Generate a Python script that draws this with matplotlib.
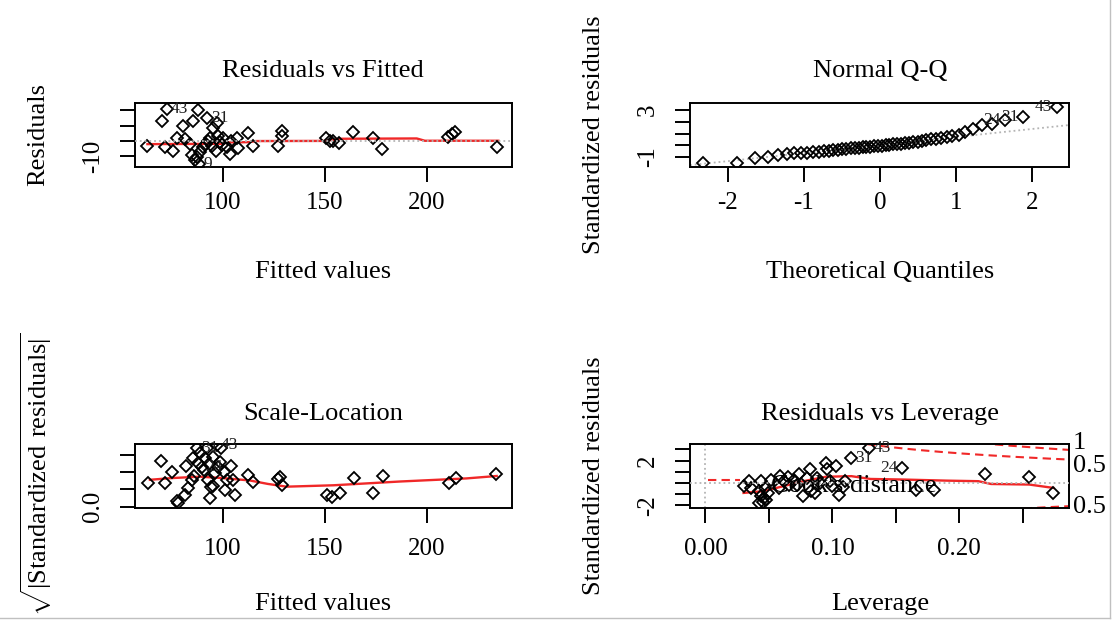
import numpy as np
import matplotlib
matplotlib.use("Agg")
import matplotlib.pyplot as plt
from matplotlib.lines import Line2D
from statistics import NormalDist

plt.rcParams['font.family'] = ['Liberation Serif', 'DejaVu Serif']
plt.rcParams['mathtext.fontset'] = 'custom'
plt.rcParams['mathtext.rm'] = 'Liberation Serif'
plt.rcParams['font.size'] = 18

W, H = 1115, 621

# --- Residuals vs Fitted ---
rf_fitted = [62.9, 69.9, 71.6, 75.3, 77.3, 80.5, 81.4, 83.8, 84.6, 85.4,
             86.3, 87.9, 88.7, 90.3, 92.8, 93.6, 94.4, 95.3, 96.6, 97.2,
             97.7, 98.5, 100.2, 101.8, 103.4, 104.2, 106.7, 107.5, 112.4, 114.9,
             127.1, 128.8, 128.8, 150.5, 152.5, 154.1, 157.0, 163.9, 173.7, 177.8,
             210.5, 212.1, 213.7, 234.5, 72.5, 92.2, 88.2, 87.3, 91.5, 99.5]
rf_resid = [-3.0, 12.9, -3.6, -6.2, 2.3, 9.7, 1.2, -1.9, -9.4, 13.3,
            -12.6, 20.3, -7.3, -4.1, 0.2, 2.3, -3.0, 8.7, -6.2, 11.9,
            3.4, -0.9, 1.9, -4.1, -8.3, 0.2, 2.3, -4.5, 5.5, -3.0,
            -3.0, 6.5, 3.4, 2.3, 0.2, 0.2, -1.5, 6.1, 2.3, -5.1,
            2.7, 4.4, 6.1, -4.1, 21.0, 15.0, -15.0, -10.6, -2.0, -2.5]
rf_id_index = [44, 45, 46]
rf_id_text = ["43", "31", "9"]
rf_smooth_x = [63, 80, 100, 102, 113, 116, 150, 158, 195, 199, 235]
rf_smooth_y = [-2.0, -1.9, -1.8, -0.9, -0.7, 0.0, 0.1, 1.5, 1.7, 0.2, 0.2]

# --- Normal Q-Q (sorted standardized residuals) ---
qq_std = [-1.54, -1.48, -1.11, -0.97, -0.85, -0.75, -0.70, -0.68, -0.65, -0.60,
          -0.55, -0.50, -0.45, -0.42, -0.38, -0.35, -0.30, -0.27, -0.24, -0.21,
          -0.18, -0.15, -0.12, -0.09, -0.06, -0.03, 0.00, 0.03, 0.07, 0.10,
          0.14, 0.18, 0.22, 0.27, 0.32, 0.37, 0.42, 0.50, 0.56, 0.62,
          0.68, 0.75, 0.85, 1.15, 1.35, 1.75, 1.80, 2.15, 2.45, 3.28]
qq_id_index = [49, 48, 47]
qq_id_text = ["43", "31", "24"]

# --- Scale-Location ---
sl_fitted = [63.4, 69.6, 71.6, 74.8, 77.3, 78.1, 81.4, 81.9, 84.6, 85.5,
             87.1, 87.9, 88.7, 89.5, 91.2, 92.0, 92.8, 93.6, 94.0, 95.3,
             96.1, 96.9, 97.7, 98.5, 99.3, 101.0, 101.8, 104.2, 105.1, 105.9,
             112.4, 114.5, 127.1, 128.0, 128.8, 150.8, 153.3, 157.3, 164.2, 173.7,
             178.3, 211.0, 214.2, 234.1, 90.5, 86.0, 95.0, 100.5, 93.0, 83.0]
sl_value = [0.70, 1.34, 0.68, 1.00, 0.15, 0.10, 0.34, 1.18, 0.76, 1.41,
            1.70, 1.26, 1.55, 1.16, 1.41, 1.70, 0.78, 0.24, 0.58, 1.45,
            0.97, 1.79, 1.16, 1.31, 1.70, 0.49, 0.78, 1.18, 0.78, 0.34,
            0.92, 0.73, 0.80, 0.87, 0.63, 0.34, 0.29, 0.41, 0.83, 0.41,
            0.89, 0.68, 0.83, 0.95, 1.05, 0.90, 0.60, 1.02, 1.25, 0.55]
sl_id_index = [21, 10, 13]
sl_id_text = ["43", "31", "24"]
sl_smooth_x = [64.2, 75, 88.7, 100, 113.2, 122, 131.2, 154.1, 186.8, 219.4, 234.2]
sl_smooth_y = [0.78, 0.83, 0.87, 0.83, 0.76, 0.66, 0.58, 0.62, 0.73, 0.82, 0.89]

# --- Residuals vs Leverage ---
lev = [0.0304, 0.0344, 0.0436, 0.0423, 0.0436, 0.0450, 0.0460, 0.0420, 0.0470, 0.0490,
       0.0580, 0.0590, 0.0620, 0.0660, 0.0700, 0.0740, 0.0770, 0.0800, 0.0820, 0.0830,
       0.0860, 0.0950, 0.0960, 0.0980, 0.1000, 0.1030, 0.1050, 0.1150, 0.1290, 0.1550,
       0.1660, 0.1800, 0.2200, 0.2550, 0.2740, 0.0360, 0.0480, 0.0520, 0.0650, 0.0900,
       0.1100, 0.0720, 0.0880, 0.1080]
lev_std = [-0.31, 0.15, 0.15, -0.76, -1.21, -1.67, -1.37, -1.82, -0.46, -0.91,
           -0.46, 0.60, 0.15, -0.15, 0.30, 0.75, -1.21, 0.45, 1.21, -0.76,
           -0.91, 1.82, 1.21, 0.15, -0.31, 1.52, -1.06, 2.27, 3.10, 1.36,
           -0.60, -0.60, 0.75, 0.52, -0.91, -0.50, -1.50, 0.30, 0.50, 0.00,
           0.20, -0.20, 0.40, -0.40]
lev_id_index = [28, 27, 29]
lev_id_text = ["43", "31", "24"]
lev_smooth_x = [0.030, 0.045, 0.056, 0.075, 0.095, 0.115, 0.130, 0.155, 0.190, 0.215, 0.225, 0.255, 0.274]
lev_smooth_y = [-0.9, -0.75, -0.45, 0.1, 0.55, 0.6, 0.35, 0.3, 0.2, 0.15, -0.1, -0.15, -0.45]
cook_levels = [0.5, 1.0]
cook_p = 3.5
cook_labels = ["1", "0.5", "0.5"]
cook_label_y = [3.6, 1.5, -2.15]

RED = '#f02828'
GRAY = '#b4b4b4'
FS = 19

fig = plt.figure(figsize=(W / 100, H / 100), dpi=100)


def box(l, t, r, b, xpad):
    ax = fig.add_axes([l / W, 1 - b / H, (r - l) / W, (b - t) / H])
    for s in ax.spines.values():
        s.set_linewidth(1.4)
    ax.tick_params(length=10.5, width=1.4, labelsize=18)
    ax.tick_params(axis='x', pad=xpad)
    ax.tick_params(axis='y', pad=12, labelrotation=90)
    return ax


def ftext(x, y, s, rot=0):
    fig.text(x / W, 1 - y / H, s, ha='center', va='center', rotation=rot, fontsize=FS)


def pts(ax, x, y):
    ax.plot(x, y, 'D', ms=5.8, mfc='none', mec='black', mew=1.3, zorder=3)


def ids(ax, x, y, idx, txt, side):
    for i, t in zip(idx, txt):
        ha = 'left' if side[i] else 'right'
        off = 3 if side[i] else -3
        ax.annotate(t, (x[i], y[i]), xytext=(off, 0), textcoords='offset points',
                    ha=ha, va='center', fontsize=12.5, color='#202020',
                    annotation_clip=False, zorder=4)


def side_of(x):
    x = np.asarray(x)
    mid = (x.min() + x.max()) / 2
    return x <= mid


# Panel 1
ax1 = box(135, 103, 512, 167, 7.5)
ax1.plot(rf_smooth_x, rf_smooth_y, color=RED, lw=1.7, zorder=2)
pts(ax1, rf_fitted, rf_resid)
ax1.axhline(0, color=GRAY, lw=1.3, ls=':', zorder=4)
ids(ax1, rf_fitted, rf_resid, rf_id_index, rf_id_text, side_of(rf_fitted))
ax1.set_xlim(56.9, 241.7)
ax1.set_ylim(-16.9, 24.8)
ax1.set_xticks([100, 150, 200])
ax1.set_yticks([-10, 0, 10, 20])
ax1.set_yticklabels(["-10", "", "", ""], va='center')
ftext(323, 71, "Residuals vs Fitted")
ftext(323, 272, "Fitted values")
ftext(38, 135, "Residuals", 90)

# Panel 2
n = len(qq_std)
qq_theo = [NormalDist().inv_cdf((i + 0.5) / n) for i in range(n)]
ax2 = box(690, 103, 1069, 167, 7.5)
q_y = np.quantile(qq_std, [0.25, 0.75])
q_x = np.array([NormalDist().inv_cdf(0.25), NormalDist().inv_cdf(0.75)])
slope = (q_y[1] - q_y[0]) / (q_x[1] - q_x[0])
icpt = q_y[0] - slope * q_x[0]
ax2.axline((0, icpt), slope=slope, color=GRAY, lw=1.3, ls=':', zorder=2)
pts(ax2, qq_theo, qq_std)
ids(ax2, qq_theo, qq_std, qq_id_index, qq_id_text, side_of(qq_theo))
ax2.set_xlim(-2.5, 2.49)
ax2.set_ylim(-1.85, 3.6)
ax2.set_xticks([-2, -1, 0, 1, 2])
ax2.set_xticklabels(["-2", "-1", "0", "1", "2"])
ax2.set_yticks([-1, 0, 1, 2, 3])
ax2.set_yticklabels(["-1", "", "", "", "3"], va='center')
ftext(880, 71, "Normal Q-Q")
ftext(880, 272, "Theoretical Quantiles")
ftext(594, 135, "Standardized residuals", 90)

# Panel 3
ax3 = box(135, 444, 512, 508, 11)
ax3.plot(sl_smooth_x, sl_smooth_y, color=RED, lw=1.7, zorder=2)
pts(ax3, sl_fitted, sl_value)
ids(ax3, sl_fitted, sl_value, sl_id_index, sl_id_text, side_of(sl_fitted))
ax3.set_xlim(56.9, 241.7)
ax3.set_ylim(-0.04, 1.82)
ax3.set_xticks([100, 150, 200])
ax3.set_yticks([0, 0.5, 1.0, 1.5])
ax3.set_yticklabels(["0.0", "", "", ""], va='center')
ftext(323, 414, "Scale-Location")
ftext(323, 604, "Fitted values")
ftext(36, 474, r"$\sqrt{|\mathrm{Standardized\ residuals}|}$", 90)

# Panel 4
ax4 = box(690, 444, 1069, 508, 11)
xl = (-0.0122, 0.2864)
hh = np.linspace(0.01, xl[1], 200)
for c in cook_levels:
    cy = np.sqrt(c * cook_p * (1 - hh) / hh)
    ax4.plot(hh, cy, color=RED, ls=(0, (4, 2.5)), lw=1.5, zorder=2)
    ax4.plot(hh, -cy, color=RED, ls=(0, (4, 2.5)), lw=1.5, zorder=2)
ax4.plot(lev_smooth_x, lev_smooth_y, color=RED, lw=1.7, zorder=2)
pts(ax4, lev, lev_std)
ax4.axhline(0, color=GRAY, lw=1.3, ls=':', zorder=4)
ax4.axvline(0, color=GRAY, lw=1.3, ls=':', zorder=1)
ids(ax4, lev, lev_std, lev_id_index, lev_id_text, side_of(lev))
ax4.set_xlim(*xl)
ax4.set_ylim(-2.25, 3.48)
ax4.set_xticks([0, 0.05, 0.10, 0.15, 0.20, 0.25])
ax4.set_xticklabels(["0.00", "", "0.10", "", "0.20", ""])
ax4.set_yticks([-2, -1, 0, 1, 2, 3])
ax4.set_yticklabels(["-2", "", "", "", "2", ""], va='center')
ax4.plot([0.048, 0.131], [0.43, 0.43], transform=ax4.transAxes, color=RED,
         ls=(0, (4, 2.5)), lw=1.5)
ax4.text(0.215, 0.34, "Cook's distance", transform=ax4.transAxes, va='center',
         ha='left', fontsize=FS, zorder=5)
tr = ax4.get_yaxis_transform()
for lab, yy in zip(cook_labels, cook_label_y):
    ax4.text(1.01, yy, lab, transform=tr, ha='left', va='center', fontsize=FS,
             clip_on=False)
ftext(880, 414, "Residuals vs Leverage")
ftext(880, 604, "Leverage")
ftext(594, 476, "Standardized residuals", 90)

# thin frame on the right and bottom edge
fig.add_artist(Line2D([1110 / W, 1110 / W], [1 - 618 / H, 1], color='#c0c0c0', lw=1))
fig.add_artist(Line2D([0, 1110 / W], [1 - 618 / H, 1 - 618 / H], color='#c0c0c0', lw=1))

fig.savefig('out.png', dpi=100)
